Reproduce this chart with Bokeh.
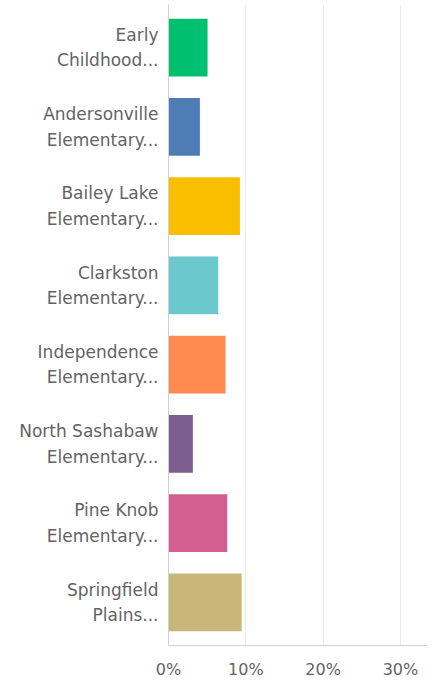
from bokeh.plotting import figure
from bokeh.models import FactorRange, Range1d, NumeralTickFormatter, FixedTicker, ColumnDataSource
from bokeh.embed import file_html
from bokeh.resources import INLINE

categories = [
    "Early\nChildhood...",
    "Andersonville\nElementary...",
    "Bailey Lake\nElementary...",
    "Clarkston\nElementary...",
    "Independence\nElementary...",
    "North Sashabaw\nElementary...",
    "Pine Knob\nElementary...",
    "Springfield\nPlains...",
]
values = [0.0505, 0.0406, 0.0924, 0.0643, 0.0738, 0.0315, 0.0760, 0.0946]
colors = ["#00BF6F", "#507CB6", "#F9BE00", "#6BC8CD", "#FF8B4F", "#7D5C90", "#D25F90", "#C7B879"]
x_ticks = [0, 0.1, 0.2, 0.3]

src = ColumnDataSource(dict(cat=categories, val=values, color=colors))

p = figure(
    width=427, height=681,
    y_range=FactorRange(factors=categories[::-1], range_padding=0.011),
    x_range=Range1d(0, 0.335),
    output_backend="svg", toolbar_location=None,
    min_border_left=168, min_border_right=0, min_border_top=4, min_border_bottom=20,
)
p.hbar(y="cat", right="val", height=0.73, color="color", source=src, line_color=None)

p.outline_line_color = None
p.background_fill_color = "white"
p.ygrid.grid_line_color = None
p.xgrid.grid_line_color = "#ebebeb"
p.xgrid.grid_line_width = 1
p.xaxis.ticker = FixedTicker(ticks=x_ticks)
p.xaxis.formatter = NumeralTickFormatter(format="0%")

for ax in (p.xaxis, p.yaxis):
    ax.axis_line_color = "#d0d0d0"
    ax.major_tick_line_color = None
    ax.minor_tick_line_color = None
    ax.major_tick_out = 0
    ax.major_tick_in = 0
    ax.major_label_text_color = "#636363"
    ax.major_label_text_font = "DejaVu Sans"

p.yaxis.major_label_text_font_size = "17px"
p.yaxis.major_label_text_line_height = 1.28
p.xaxis.major_label_text_font_size = "16px"
p.xaxis.major_label_text_line_height = 1.0
p.xaxis.major_label_standoff = 14
p.yaxis.major_label_standoff = 10

open("out.html", "w").write(file_html(p, INLINE))
